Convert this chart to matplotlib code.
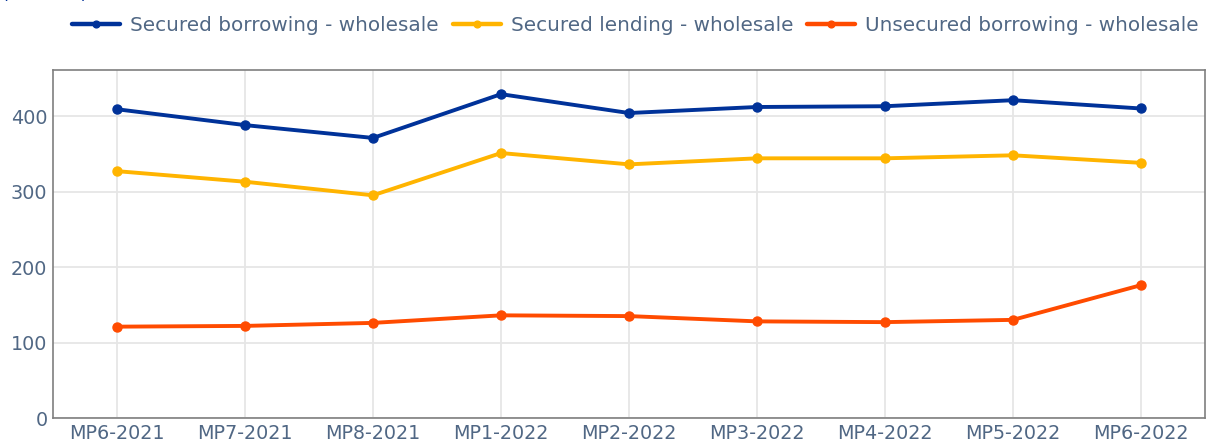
import numpy as np
import matplotlib
matplotlib.use("Agg")
import matplotlib.pyplot as plt

periods = ["MP6-2021", "MP7-2021", "MP8-2021", "MP1-2022", "MP2-2022",
           "MP3-2022", "MP4-2022", "MP5-2022", "MP6-2022"]
secured_borrowing = [409, 388, 371, 429, 404, 412, 413, 421, 410]
secured_lending = [327, 313, 295, 351, 336, 344, 344, 348, 338]
unsecured_borrowing = [121, 122, 126, 136, 135, 128, 127, 130, 176]

series_names = ["Secured borrowing - wholesale", "Secured lending - wholesale",
                "Unsecured borrowing - wholesale"]
colors = ["#003299", "#FFB400", "#FF4B00"]
text_col = "#506784"

fig = plt.figure(figsize=(12.18, 4.46), dpi=100)
ax = fig.add_axes([53 / 1218, 28 / 446, 1152 / 1218, 348 / 446])

x = np.arange(len(periods))
for vals, name, c in zip([secured_borrowing, secured_lending, unsecured_borrowing],
                         series_names, colors):
    ax.plot(x, vals, color=c, lw=2.8, marker="o", ms=6.5, label=name,
            solid_capstyle="round", zorder=3)

ax.set_xlim(-0.5, len(periods) - 0.5)
ax.set_ylim(0, 461)
ax.set_xticks(x)
ax.set_xticklabels(periods)
ax.set_yticks([0, 100, 200, 300, 400])
ax.grid(True, color="#e6e6e6", lw=1.3, zorder=0)
ax.tick_params(length=0, labelsize=13.8, labelcolor=text_col, pad=4)
for s in ax.spines.values():
    s.set_color("#7f7f7f")
    s.set_linewidth(1.2)

leg = fig.legend(loc="upper left", bbox_to_anchor=(72 / 1218, 1 - 16 / 446), ncol=3,
                 frameon=False, fontsize=14.4, labelcolor=text_col, handlelength=2.4,
                 handletextpad=0.5, columnspacing=0.7, borderaxespad=0,
                 borderpad=0, markerscale=0.75)
for h in leg.legend_handles:
    h.set_linewidth(3.2)

# axis unit label, mostly above the top edge as in the original
fig.text(0.002, 1 - 3 / 446, "(€ billion)", color="#003299", fontsize=13,
         va="bottom", ha="left")

fig.savefig("out.png", dpi=100)
